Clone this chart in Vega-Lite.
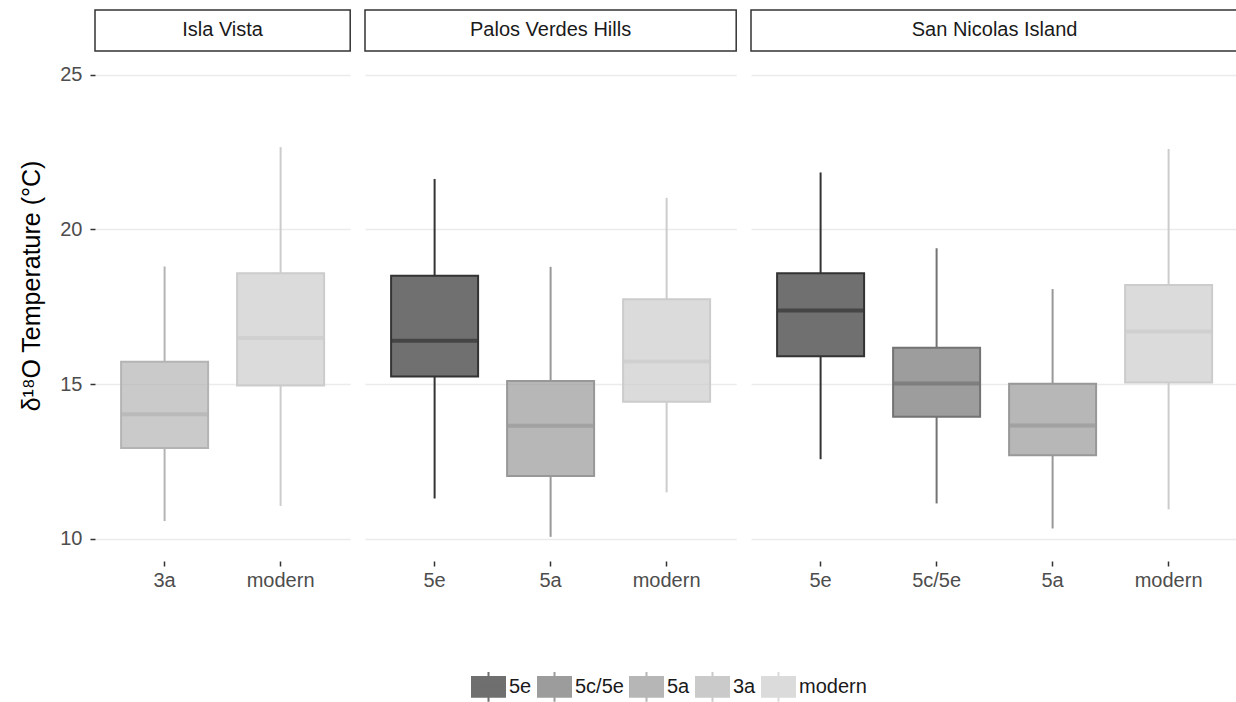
{
  "$schema": "https://vega.github.io/schema/vega-lite/v6.json",
  "padding": {"left": 19, "top": 9, "right": 0, "bottom": 0},
  "background": "white",
  "datasets": {"boxes": [
    {"site": "Isla Vista", "period": "3a", "min": 10.57, "q1": 12.93, "median": 14.02, "q3": 15.72, "max": 18.80},
    {"site": "Isla Vista", "period": "modern", "min": 11.06, "q1": 14.95, "median": 16.49, "q3": 18.58, "max": 22.66},
    {"site": "Palos Verdes Hills", "period": "5e", "min": 11.30, "q1": 15.24, "median": 16.40, "q3": 18.50, "max": 21.63},
    {"site": "Palos Verdes Hills", "period": "5a", "min": 10.06, "q1": 12.03, "median": 13.65, "q3": 15.10, "max": 18.79},
    {"site": "Palos Verdes Hills", "period": "modern", "min": 11.50, "q1": 14.43, "median": 15.73, "q3": 17.74, "max": 21.02},
    {"site": "San Nicolas Island", "period": "5e", "min": 12.57, "q1": 15.90, "median": 17.38, "q3": 18.58, "max": 21.84},
    {"site": "San Nicolas Island", "period": "5c/5e", "min": 11.14, "q1": 13.94, "median": 15.02, "q3": 16.17, "max": 19.39},
    {"site": "San Nicolas Island", "period": "5a", "min": 10.33, "q1": 12.70, "median": 13.66, "q3": 15.01, "max": 18.07},
    {"site": "San Nicolas Island", "period": "modern", "min": 10.95, "q1": 15.05, "median": 16.70, "q3": 18.20, "max": 22.60}
  ]},
  "data": {"name": "boxes"},
  "spacing": 13,
  "resolve": {"scale": {"x": "independent", "y": "shared", "color": "shared", "stroke": "shared"}},
  "hconcat": [
    {
      "transform": [{"filter": "datum.site === 'Isla Vista'"}],
      "width": {"step": 116.0},
      "height": 551,
      "layer": [
        {"transform": [{"aggregate": [{"op": "count", "as": "n"}], "groupby": ["site"]}],
         "mark": {"type": "rect", "fill": "white", "stroke": "#333333", "strokeWidth": 1.5},
         "encoding": {"y": {"datum": 25.766, "type": "quantitative"}, "y2": {"datum": 27.092}}},
        {"transform": [{"aggregate": [{"op": "count", "as": "n"}], "groupby": ["site"]}],
         "mark": {"type": "text", "fontSize": 20, "font": "Liberation Sans", "color": "#1a1a1a", "baseline": "middle", "align": "center"},
         "encoding": {"y": {"datum": 26.43, "type": "quantitative"}, "text": {"field": "site", "type": "nominal"}}},
        {"mark": {"type": "rule", "strokeWidth": 2},
         "encoding": {
           "x": {"field": "period", "type": "nominal", "sort": ["5e", "5c/5e", "5a", "3a", "modern"], "scale": {"paddingInner": 0.25, "paddingOuter": 0.225}, "title": null},
           "y": {"field": "q3", "type": "quantitative", "scale": {"domain": [9.279, 27.092], "nice": false, "zero": false}, "axis": {"values": [10, 15, 20, 25], "title": "δ¹⁸O Temperature (°C)"}},
           "y2": {"field": "max"},
           "color": {"field": "period", "type": "nominal", "scale": {"domain": ["5e", "5c/5e", "5a", "3a", "modern"], "range": ["#333333", "#737373", "#989898", "#b4b4b4", "#cccccc"]}, "title": null}}},
        {"mark": {"type": "rule", "strokeWidth": 2},
         "encoding": {
           "x": {"field": "period", "type": "nominal", "sort": ["5e", "5c/5e", "5a", "3a", "modern"]},
           "y": {"field": "min", "type": "quantitative"},
           "y2": {"field": "q1"},
           "color": {"field": "period", "type": "nominal"}}},
        {"mark": {"type": "bar", "fillOpacity": 0.7, "strokeWidth": 2},
         "encoding": {
           "x": {"field": "period", "type": "nominal", "sort": ["5e", "5c/5e", "5a", "3a", "modern"]},
           "y": {"field": "q1", "type": "quantitative"},
           "y2": {"field": "q3"},
           "color": {"field": "period", "type": "nominal"},
           "stroke": {"field": "period", "type": "nominal", "scale": {"domain": ["5e", "5c/5e", "5a", "3a", "modern"], "range": ["#333333", "#737373", "#989898", "#b4b4b4", "#cccccc"]}, "title": null}}},
        {"mark": {"type": "tick", "thickness": 4},
         "encoding": {
           "x": {"field": "period", "type": "nominal", "sort": ["5e", "5c/5e", "5a", "3a", "modern"]},
           "y": {"field": "median", "type": "quantitative"},
           "color": {"field": "period", "type": "nominal"}}}
      ]
    },
    {
      "transform": [{"filter": "datum.site === 'Palos Verdes Hills'"}],
      "width": {"step": 116.0},
      "height": 551,
      "layer": [
        {"transform": [{"aggregate": [{"op": "count", "as": "n"}], "groupby": ["site"]}],
         "mark": {"type": "rect", "fill": "white", "stroke": "#333333", "strokeWidth": 1.5},
         "encoding": {"y": {"datum": 25.766, "type": "quantitative"}, "y2": {"datum": 27.092}}},
        {"transform": [{"aggregate": [{"op": "count", "as": "n"}], "groupby": ["site"]}],
         "mark": {"type": "text", "fontSize": 20, "font": "Liberation Sans", "color": "#1a1a1a", "baseline": "middle", "align": "center"},
         "encoding": {"y": {"datum": 26.43, "type": "quantitative"}, "text": {"field": "site", "type": "nominal"}}},
        {"mark": {"type": "rule", "strokeWidth": 2},
         "encoding": {
           "x": {"field": "period", "type": "nominal", "sort": ["5e", "5c/5e", "5a", "3a", "modern"], "scale": {"paddingInner": 0.25, "paddingOuter": 0.225}, "title": null},
           "y": {"field": "q3", "type": "quantitative", "scale": {"domain": [9.279, 27.092], "nice": false, "zero": false}, "axis": {"values": [10, 15, 20, 25], "labels": false, "ticks": false, "title": null}},
           "y2": {"field": "max"},
           "color": {"field": "period", "type": "nominal", "scale": {"domain": ["5e", "5c/5e", "5a", "3a", "modern"], "range": ["#333333", "#737373", "#989898", "#b4b4b4", "#cccccc"]}, "title": null}}},
        {"mark": {"type": "rule", "strokeWidth": 2},
         "encoding": {
           "x": {"field": "period", "type": "nominal", "sort": ["5e", "5c/5e", "5a", "3a", "modern"]},
           "y": {"field": "min", "type": "quantitative"},
           "y2": {"field": "q1"},
           "color": {"field": "period", "type": "nominal"}}},
        {"mark": {"type": "bar", "fillOpacity": 0.7, "strokeWidth": 2},
         "encoding": {
           "x": {"field": "period", "type": "nominal", "sort": ["5e", "5c/5e", "5a", "3a", "modern"]},
           "y": {"field": "q1", "type": "quantitative"},
           "y2": {"field": "q3"},
           "color": {"field": "period", "type": "nominal"},
           "stroke": {"field": "period", "type": "nominal", "scale": {"domain": ["5e", "5c/5e", "5a", "3a", "modern"], "range": ["#333333", "#737373", "#989898", "#b4b4b4", "#cccccc"]}, "title": null}}},
        {"mark": {"type": "tick", "thickness": 4},
         "encoding": {
           "x": {"field": "period", "type": "nominal", "sort": ["5e", "5c/5e", "5a", "3a", "modern"]},
           "y": {"field": "median", "type": "quantitative"},
           "color": {"field": "period", "type": "nominal"}}}
      ]
    },
    {
      "transform": [{"filter": "datum.site === 'San Nicolas Island'"}],
      "width": {"step": 116.0},
      "height": 551,
      "layer": [
        {"transform": [{"aggregate": [{"op": "count", "as": "n"}], "groupby": ["site"]}],
         "mark": {"type": "rect", "fill": "white", "stroke": "#333333", "strokeWidth": 1.5},
         "encoding": {"y": {"datum": 25.766, "type": "quantitative"}, "y2": {"datum": 27.092}}},
        {"transform": [{"aggregate": [{"op": "count", "as": "n"}], "groupby": ["site"]}],
         "mark": {"type": "text", "fontSize": 20, "font": "Liberation Sans", "color": "#1a1a1a", "baseline": "middle", "align": "center"},
         "encoding": {"y": {"datum": 26.43, "type": "quantitative"}, "text": {"field": "site", "type": "nominal"}}},
        {"mark": {"type": "rule", "strokeWidth": 2},
         "encoding": {
           "x": {"field": "period", "type": "nominal", "sort": ["5e", "5c/5e", "5a", "3a", "modern"], "scale": {"paddingInner": 0.25, "paddingOuter": 0.225}, "title": null},
           "y": {"field": "q3", "type": "quantitative", "scale": {"domain": [9.279, 27.092], "nice": false, "zero": false}, "axis": {"values": [10, 15, 20, 25], "labels": false, "ticks": false, "title": null}},
           "y2": {"field": "max"},
           "color": {"field": "period", "type": "nominal", "scale": {"domain": ["5e", "5c/5e", "5a", "3a", "modern"], "range": ["#333333", "#737373", "#989898", "#b4b4b4", "#cccccc"]}, "title": null}}},
        {"mark": {"type": "rule", "strokeWidth": 2},
         "encoding": {
           "x": {"field": "period", "type": "nominal", "sort": ["5e", "5c/5e", "5a", "3a", "modern"]},
           "y": {"field": "min", "type": "quantitative"},
           "y2": {"field": "q1"},
           "color": {"field": "period", "type": "nominal"}}},
        {"mark": {"type": "bar", "fillOpacity": 0.7, "strokeWidth": 2},
         "encoding": {
           "x": {"field": "period", "type": "nominal", "sort": ["5e", "5c/5e", "5a", "3a", "modern"]},
           "y": {"field": "q1", "type": "quantitative"},
           "y2": {"field": "q3"},
           "color": {"field": "period", "type": "nominal"},
           "stroke": {"field": "period", "type": "nominal", "scale": {"domain": ["5e", "5c/5e", "5a", "3a", "modern"], "range": ["#333333", "#737373", "#989898", "#b4b4b4", "#cccccc"]}, "title": null, "legend": {"encode": {"symbols": {"update": {"stroke": {"scale": "stroke", "field": "value"}, "opacity": {"value": 1}, "strokeOpacity": {"value": 1}, "strokeWidth": {"value": 2}, "fillOpacity": {"value": 0.7}}}}}}}},
        {"mark": {"type": "tick", "thickness": 4},
         "encoding": {
           "x": {"field": "period", "type": "nominal", "sort": ["5e", "5c/5e", "5a", "3a", "modern"]},
           "y": {"field": "median", "type": "quantitative"},
           "color": {"field": "period", "type": "nominal"}}}
      ]
    }
  ],
  "config": {
    "view": {"stroke": null},
    "font": "Liberation Sans",
    "axis": {
      "domain": false,
      "tickColor": "#333333",
      "tickSize": 5,
      "tickWidth": 1.5,
      "labelColor": "#4d4d4d",
      "labelFontSize": 20,
      "labelFont": "Liberation Sans",
      "titleFont": "Liberation Sans",
      "titleFontWeight": "normal",
      "titleColor": "#000000"
    },
    "axisX": {"grid": false, "labelPadding": 4, "labelAngle": 0},
    "axisY": {"grid": true, "gridColor": "#ebebeb", "gridWidth": 1.5, "labelPadding": 8, "titleFontSize": 25, "titlePadding": 15},
    "legend": {
      "orient": "none",
      "legendX": 376,
      "legendY": 659,
      "direction": "horizontal",
      "columns": 5,
      "columnPadding": 2,
      "labelFontSize": 20,
      "labelColor": "#1a1a1a",
      "labelFont": "Liberation Sans",
      "labelOffset": 3,
      "symbolType": "M-1,-0.6H1V0.6H-1Z M-1,0H1 M0,-0.6V-0.9 M0,0.6V0.9",
      "symbolSize": 1089,
      "symbolStrokeWidth": 2,
      "title": null
    }
  }
}
